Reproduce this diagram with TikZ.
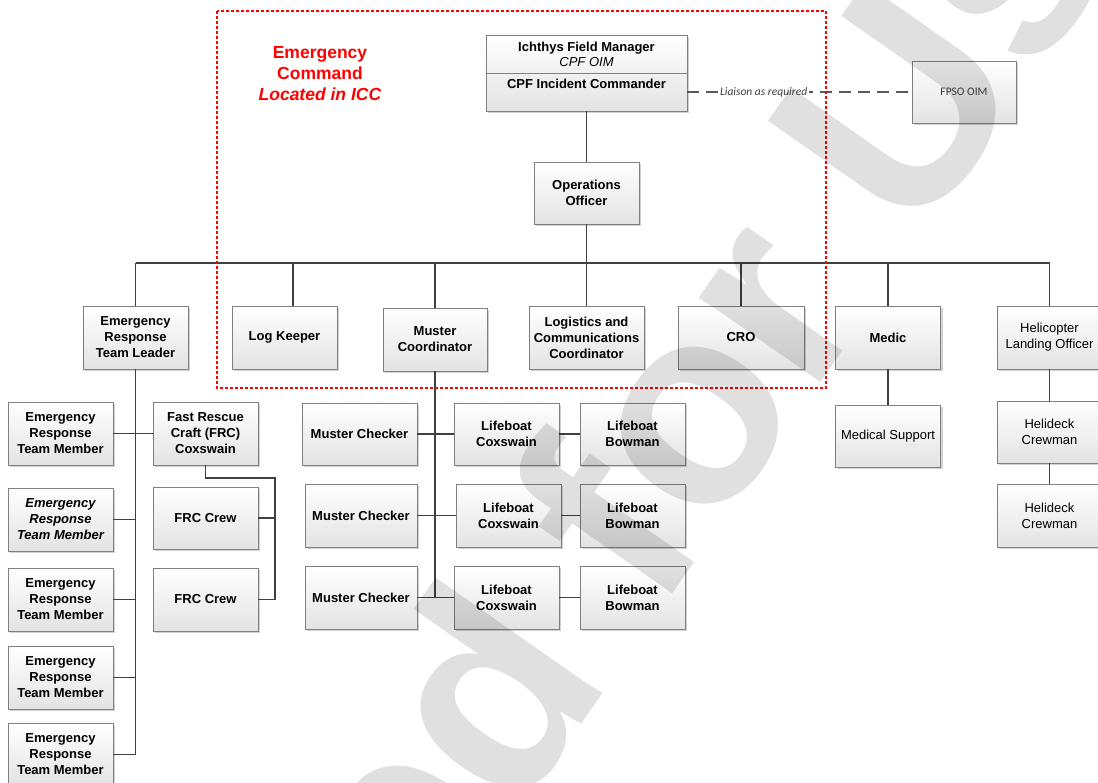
\documentclass[tikz,border=0pt]{standalone}
\usepackage{fontspec}
\setmainfont{Liberation Sans}
\newfontfamily\calfont{Carlito}
\usetikzlibrary{shadows,calc}
\tikzset{
  box/.style={draw=black!50, line width=0.8pt, top color=white, bottom color=black!11,
    minimum width=105pt, minimum height=63pt, inner sep=1pt, align=center,
    font=\fontsize{13}{16}\selectfont\bfseries,
    drop shadow={shadow xshift=2pt, shadow yshift=-2pt, fill=black!35, opacity=0.5}},
  rbox/.style={box, font=\fontsize{13}{16}\selectfont},
  conn/.style={draw=black!75, line width=1.3pt},
  liaison/.style={draw=black!65, line width=1.3pt, dash pattern=on 12pt off 7pt},
  zone/.style={draw=red, line width=2pt, dash pattern=on 3pt off 2pt},
  plain/.style={inner sep=0pt, align=center}
}
\begin{document}
\begin{tikzpicture}[x=1pt,y=-1pt]
\useasboundingbox (0,0) rectangle (1098,782);
\fill[white] (0,0) rectangle (1098,782);

% ---------- top ----------
\node[box, minimum width=201pt, minimum height=76pt] (ich) at (586.5,73) {};
\draw[draw=black!50, line width=0.8pt] (ich.west) -- (ich.east);
\node[plain, font=\fontsize{13}{15}\selectfont\bfseries] (ichtop) at (586.5,54)
  {Ichthys Field Manager\\{\mdseries\itshape CPF OIM}};
\node[plain, font=\fontsize{13}{15}\selectfont\bfseries] (ichbot) at (586.5,84)
  {CPF Incident Commander};

\node[box, font=\calfont\fontsize{11.5}{14}\selectfont, text=black!75, minimum width=104pt, minimum height=62pt] (fpso) at (964,92) {FPSO OIM};
\node[box, minimum height=62pt] (ops) at (586.5,193) {Operations\\Officer};

% ---------- second row ----------
\node[box] (ertl)   at (135.5,337.5) {Emergency\\Response\\Team Leader};
\node[box] (logk)   at (284.5,337.5) {Log Keeper};
\node[box, minimum width=104pt] (mcoord) at (435,339.5) {Muster\\Coordinator};
\node[box, minimum width=115pt] (logis)  at (586.5,337.5) {Logistics and\\Communications\\Coordinator};
\node[box, minimum width=126pt] (cro)    at (741,337.5) {CRO};
\node[box] (medic)  at (888,337.5) {Medic};
\node[rbox] (hlo)   at (1049.5,337.5) {Helicopter\\Landing Officer};

% ---------- ERT members ----------
\node[box] (ertm1) at (60.5,433.5) {Emergency\\Response\\Team Member};
\node[box, font=\fontsize{13}{16}\selectfont\bfseries\itshape] (ertm2) at (60.5,519.5) {Emergency\\Response\\Team Member};
\node[box] (ertm3) at (60.5,599.5) {Emergency\\Response\\Team Member};
\node[box] (ertm4) at (60.5,677.5) {Emergency\\Response\\Team Member};
\node[box] (ertm5) at (60.5,754.5) {Emergency\\Response\\Team Member};

\node[box] (frc)   at (205.5,433.5) {Fast Rescue\\Craft (FRC)\\Coxswain};
\node[box, minimum height=62pt] (frcc1) at (205.5,518) {FRC Crew};
\node[box] (frcc2) at (205.5,599.5) {FRC Crew};

% ---------- muster ----------
\node[box, minimum width=115pt, minimum height=62pt] (mc1) at (359.5,434) {Muster Checker};
\node[box, minimum width=112pt] (mc2) at (361,515.5) {Muster Checker};
\node[box, minimum width=112pt] (mc3) at (361,597.5) {Muster Checker};
\node[box, minimum height=62pt] (lc1) at (506.5,434) {Lifeboat\\Coxswain};
\node[box] (lc2) at (508.5,515.5) {Lifeboat\\Coxswain};
\node[box] (lc3) at (506.5,597.5) {Lifeboat\\Coxswain};
\node[box, minimum height=62pt] (lb1) at (632.5,434) {Lifeboat\\Bowman};
\node[box] (lb2) at (632.5,515.5) {Lifeboat\\Bowman};
\node[box] (lb3) at (632.5,597.5) {Lifeboat\\Bowman};

% ---------- right ----------
\node[rbox, minimum height=62pt] (medsup) at (888,436) {Medical Support};
\node[rbox, minimum height=62pt] (hd1) at (1049.5,432) {Helideck\\Crewman};
\node[rbox] (hd2) at (1049.5,515.5) {Helideck\\Crewman};

% ---------- connectors ----------
\coordinate (bus) at (0,263);
\coordinate (lk) at (293,263);
\draw[conn] (ich.south) -- (ops.north);
\draw[conn] (ops.south) -- (ops.south |- bus);
\draw[conn] (ertl.north |- bus) -- (hlo.north |- bus);
\draw[conn] (ertl.north |- bus) -- (ertl.north);
\draw[conn] (lk) -- (lk |- logk.north);
\draw[conn] (mcoord.north |- bus) -- (mcoord.north);
\draw[conn] (logis.north |- bus) -- (logis.north);
\draw[conn] (cro.north |- bus) -- (cro.north);
\draw[conn] (medic.north |- bus) -- (medic.north);
\draw[conn] (hlo.north |- bus) -- (hlo.north);

\draw[conn] (ertl.south) -- (ertl.south |- ertm5.east);
\draw[conn] (ertm1.east) -- (frc.west);
\draw[conn] (ertm2.east) -- (ertl.south |- ertm2.east);
\draw[conn] (ertm3.east) -- (ertl.south |- ertm3.east);
\draw[conn] (ertm4.east) -- (ertl.south |- ertm4.east);
\draw[conn] (ertm5.east) -- (ertl.south |- ertm5.east);

\coordinate (frcbus) at (275,478);
\draw[conn] (frc.south) |- (frcbus) -- (frcbus |- frcc2.east) -- (frcc2.east);
\draw[conn] (frcc1.east) -- (frcbus |- frcc1.east);

\draw[conn] (mcoord.south) -- (mcoord.south |- mc3.east);
\draw[conn] (mc1.east) -- (lc1.west);
\draw[conn] (mc2.east) -- (lc2.west);
\draw[conn] (mc3.east) -- (lc3.west);
\draw[conn] (lc1.east) -- (lb1.west);
\draw[conn] (lc2.east) -- (lb2.west);
\draw[conn] (lc3.east) -- (lb3.west);

\draw[conn] (medic.south) -- (medsup.north);
\draw[conn] (hlo.south) -- (hd1.north);
\draw[conn] (hd1.south) -- (hd2.north);

\coordinate (lia) at (ich.east |- 0,92);
\draw[liaison] (lia) -- node[pos=0.34, fill=white, inner sep=1.5pt, text=black!75,
  font=\calfont\itshape\fontsize{11.5}{12}\selectfont] (liatext) {Liaison as required} (fpso.west);

% ---------- emergency command zone ----------
\draw[zone] (217,11) rectangle (826,388);
\node[plain, text=red, font=\fontsize{17.5}{21}\selectfont\bfseries] (ectitle) at (320,74)
  {Emergency\\Command\\\textit{Located in ICC}};

% ---------- watermark ----------
\begin{scope}
\clip (0,0) rectangle (1098,782);
\node[rotate=55, anchor=base west, inner sep=0pt, text=black, text opacity=0.12,
  font=\fontsize{280}{280}\selectfont\bfseries] (wm) at (515,819) {\llap{Approve}d for Use};
\end{scope}
\end{tikzpicture}
\end{document}
